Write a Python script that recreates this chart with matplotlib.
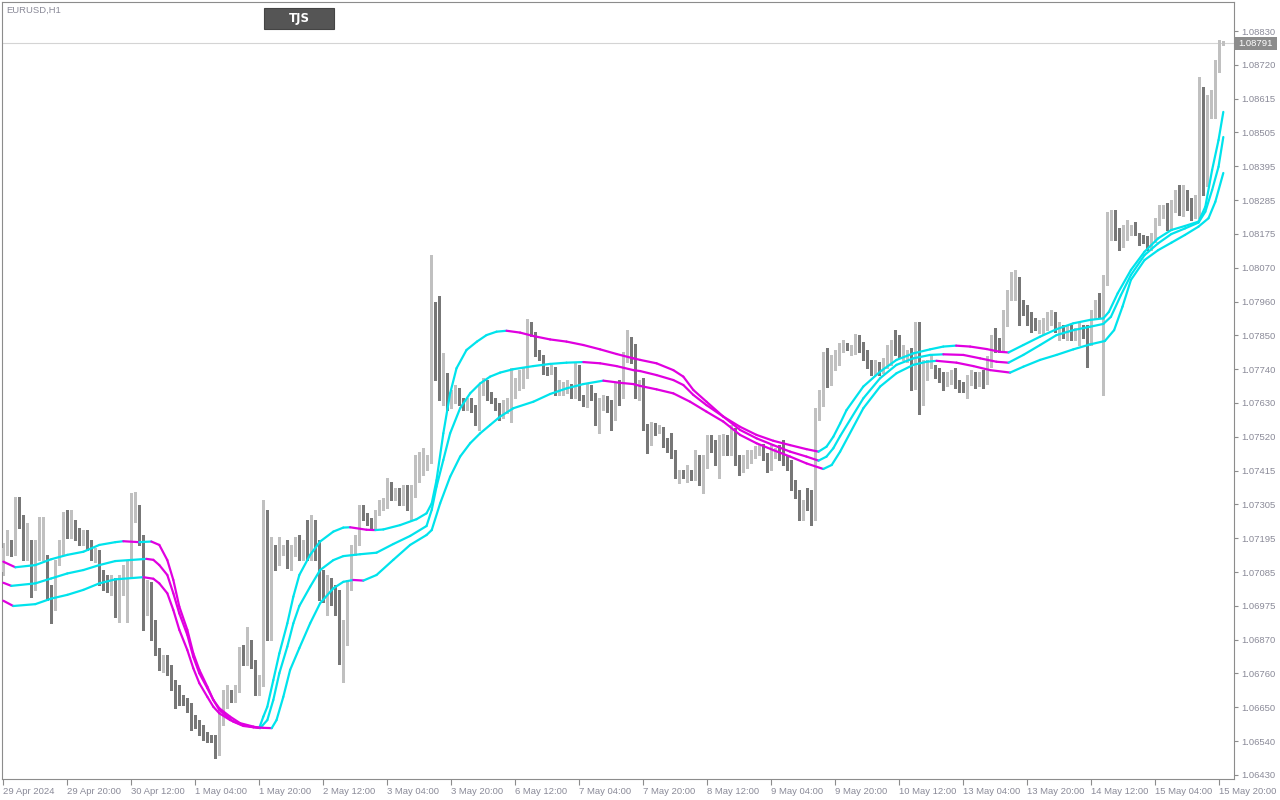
import numpy as np
import matplotlib
matplotlib.use("Agg")
import matplotlib.pyplot as plt
from matplotlib.collections import LineCollection
from matplotlib.patches import Rectangle

# ---- EURUSD H1 candles, 29 Apr 2024 00:00 .. 15 May 2024 21:00 ----
opens = [
    1.07085, 1.07150, 1.07165, 1.07150, 1.07279, 1.07242, 1.07140, 1.07169, 1.07036, 1.07137,
    1.07140, 1.07124, 1.07021, 1.06984, 1.07118, 1.07150, 1.07246, 1.07204, 1.07236, 1.07204,
    1.07188, 1.07191, 1.07165, 1.07133, 1.07140, 1.07062, 1.07059, 1.07046, 1.07046, 1.07017,
    1.07036, 1.07040, 1.07065, 1.07259, 1.07272, 1.07188, 1.06994, 1.07036, 1.06904, 1.06827,
    1.06778, 1.06795, 1.06772, 1.06713, 1.06704, 1.06672, 1.06666, 1.06649, 1.06607, 1.06597,
    1.06581, 1.06555, 1.06552, 1.06546, 1.06504, 1.06601, 1.06662, 1.06688, 1.06678, 1.06707,
    1.06833, 1.06795, 1.06824, 1.06785, 1.06701, 1.06727, 1.07275, 1.06882, 1.07121, 1.07121,
    1.07153, 1.07162, 1.07104, 1.07146, 1.07178, 1.07140, 1.07172, 1.07156, 1.07162, 1.07146,
    1.07033, 1.07017, 1.07033, 1.07017, 1.07004, 1.06856, 1.06872, 1.07043, 1.07156, 1.07182,
    1.07295, 1.07262, 1.07242, 1.07226, 1.07275, 1.07295, 1.07301, 1.07362, 1.07323, 1.07339,
    1.07317, 1.07349, 1.07311, 1.07333, 1.07414, 1.07414, 1.07420, 1.07443, 1.07920, 1.07969,
    1.07649, 1.07682, 1.07627, 1.07640, 1.07665, 1.07633, 1.07620, 1.07630, 1.07614, 1.07572,
    1.07662, 1.07694, 1.07646, 1.07636, 1.07617, 1.07598, 1.07604, 1.07607, 1.07675, 1.07682,
    1.07711, 1.07714, 1.07869, 1.07849, 1.07791, 1.07778, 1.07736, 1.07733, 1.07736, 1.07665,
    1.07669, 1.07672, 1.07678, 1.07659, 1.07743, 1.07646, 1.07627, 1.07678, 1.07649, 1.07569,
    1.07630, 1.07633, 1.07630, 1.07588, 1.07682, 1.07656, 1.07772, 1.07801, 1.07769, 1.07652,
    1.07698, 1.07556, 1.07501, 1.07556, 1.07543, 1.07546, 1.07504, 1.07488, 1.07472, 1.07391,
    1.07401, 1.07398, 1.07404, 1.07394, 1.07440, 1.07372, 1.07430, 1.07504, 1.07481, 1.07452,
    1.07478, 1.07501, 1.07481, 1.07540, 1.07449, 1.07420, 1.07430, 1.07443, 1.07459, 1.07475,
    1.07485, 1.07459, 1.07420, 1.07462, 1.07478, 1.07462, 1.07446, 1.07433, 1.07365, 1.07339,
    1.07272, 1.07336, 1.07336, 1.07262, 1.07585, 1.07627, 1.07756, 1.07727, 1.07746, 1.07759,
    1.07801, 1.07814, 1.07795, 1.07795, 1.07840, 1.07811, 1.07785, 1.07752, 1.07730, 1.07752,
    1.07730, 1.07749, 1.07759, 1.07804, 1.07801, 1.07781, 1.07775, 1.07785, 1.07688, 1.07862,
    1.07630, 1.07714, 1.07752, 1.07733, 1.07727, 1.07711, 1.07694, 1.07707, 1.07720, 1.07691,
    1.07685, 1.07682, 1.07698, 1.07717, 1.07698, 1.07720, 1.07701, 1.07759, 1.07830, 1.07817,
    1.07804, 1.07885, 1.07972, 1.08027, 1.08030, 1.07943, 1.07927, 1.07907, 1.07888, 1.07865,
    1.07865, 1.07882, 1.07888, 1.07914, 1.07859, 1.07865, 1.07859, 1.07865, 1.07843, 1.07856,
    1.07872, 1.07865, 1.07823, 1.07917, 1.07956, 1.07914, 1.08017, 1.08178, 1.08243, 1.08165,
    1.08159, 1.08178, 1.08185, 1.08191, 1.08165, 1.08162, 1.08159, 1.08136, 1.08159, 1.08214,
    1.08243, 1.08253, 1.08198, 1.08259, 1.08294, 1.08246, 1.08291, 1.08275, 1.08236, 1.08236,
    1.08604, 1.08340, 1.08565, 1.08588, 1.08707, 1.08791,
]
highs = [
    1.07178, 1.07220, 1.07188, 1.07326, 1.07326, 1.07269, 1.07242, 1.07188, 1.07188, 1.07262,
    1.07262, 1.07140, 1.07043, 1.07124, 1.07188, 1.07279, 1.07285, 1.07285, 1.07252, 1.07226,
    1.07220, 1.07220, 1.07188, 1.07162, 1.07156, 1.07091, 1.07075, 1.07075, 1.07066, 1.07075,
    1.07108, 1.07124, 1.07339, 1.07343, 1.07301, 1.07204, 1.07059, 1.07053, 1.06930, 1.06840,
    1.06817, 1.06817, 1.06785, 1.06736, 1.06720, 1.06688, 1.06678, 1.06662, 1.06623, 1.06607,
    1.06591, 1.06568, 1.06559, 1.06559, 1.06640, 1.06704, 1.06720, 1.06704, 1.06720, 1.06843,
    1.06849, 1.06907, 1.06865, 1.06801, 1.06753, 1.07317, 1.07285, 1.07197, 1.07172, 1.07197,
    1.07172, 1.07188, 1.07172, 1.07197, 1.07204, 1.07188, 1.07252, 1.07269, 1.07252, 1.07188,
    1.07091, 1.07075, 1.07066, 1.07043, 1.07027, 1.06930, 1.07059, 1.07172, 1.07204, 1.07301,
    1.07301, 1.07275, 1.07259, 1.07285, 1.07317, 1.07323, 1.07388, 1.07375, 1.07355, 1.07355,
    1.07365, 1.07365, 1.07365, 1.07462, 1.07472, 1.07485, 1.07462, 1.08107, 1.07956, 1.07975,
    1.07791, 1.07727, 1.07672, 1.07688, 1.07678, 1.07646, 1.07646, 1.07646, 1.07623, 1.07688,
    1.07711, 1.07704, 1.07665, 1.07646, 1.07630, 1.07640, 1.07646, 1.07743, 1.07711, 1.07736,
    1.07743, 1.07901, 1.07891, 1.07859, 1.07801, 1.07785, 1.07746, 1.07752, 1.07746, 1.07704,
    1.07698, 1.07704, 1.07691, 1.07762, 1.07752, 1.07656, 1.07694, 1.07688, 1.07662, 1.07646,
    1.07656, 1.07652, 1.07640, 1.07698, 1.07704, 1.07794, 1.07865, 1.07843, 1.07820, 1.07704,
    1.07711, 1.07562, 1.07569, 1.07565, 1.07559, 1.07552, 1.07517, 1.07533, 1.07478, 1.07414,
    1.07414, 1.07430, 1.07414, 1.07478, 1.07462, 1.07462, 1.07527, 1.07527, 1.07511, 1.07527,
    1.07530, 1.07527, 1.07559, 1.07549, 1.07462, 1.07462, 1.07478, 1.07478, 1.07491, 1.07494,
    1.07498, 1.07469, 1.07494, 1.07485, 1.07494, 1.07511, 1.07462, 1.07446, 1.07381, 1.07349,
    1.07317, 1.07355, 1.07349, 1.07613, 1.07672, 1.07794, 1.07807, 1.07785, 1.07801, 1.07824,
    1.07833, 1.07824, 1.07817, 1.07852, 1.07849, 1.07827, 1.07801, 1.07769, 1.07769, 1.07762,
    1.07775, 1.07817, 1.07833, 1.07865, 1.07849, 1.07817, 1.07801, 1.07807, 1.07891, 1.07891,
    1.07769, 1.07769, 1.07785, 1.07752, 1.07743, 1.07730, 1.07730, 1.07736, 1.07743, 1.07704,
    1.07698, 1.07720, 1.07736, 1.07730, 1.07730, 1.07736, 1.07782, 1.07849, 1.07872, 1.07840,
    1.07930, 1.07994, 1.08053, 1.08059, 1.08036, 1.07962, 1.07946, 1.07923, 1.07904, 1.07898,
    1.07904, 1.07923, 1.07930, 1.07923, 1.07891, 1.07882, 1.07882, 1.07882, 1.07872, 1.07891,
    1.07882, 1.07882, 1.07930, 1.07962, 1.07985, 1.08043, 1.08246, 1.08253, 1.08253, 1.08194,
    1.08204, 1.08220, 1.08204, 1.08214, 1.08178, 1.08172, 1.08169, 1.08178, 1.08227, 1.08269,
    1.08269, 1.08275, 1.08285, 1.08317, 1.08333, 1.08333, 1.08317, 1.08291, 1.08301, 1.08682,
    1.08649, 1.08624, 1.08640, 1.08736, 1.08801, 1.08798,
]
lows = [
    1.07075, 1.07140, 1.07137, 1.07140, 1.07226, 1.07124, 1.07124, 1.07004, 1.07027, 1.07124,
    1.07124, 1.06994, 1.06920, 1.06962, 1.07108, 1.07140, 1.07194, 1.07194, 1.07188, 1.07172,
    1.07172, 1.07156, 1.07124, 1.07118, 1.07043, 1.07027, 1.07021, 1.07011, 1.06939, 1.06924,
    1.07011, 1.06924, 1.07085, 1.07246, 1.07172, 1.06898, 1.06946, 1.06865, 1.06817, 1.06769,
    1.06762, 1.06753, 1.06704, 1.06646, 1.06656, 1.06656, 1.06633, 1.06575, 1.06581, 1.06559,
    1.06543, 1.06537, 1.06537, 1.06485, 1.06495, 1.06591, 1.06646, 1.06666, 1.06666, 1.06698,
    1.06785, 1.06785, 1.06775, 1.06688, 1.06688, 1.06717, 1.06865, 1.06865, 1.07091, 1.07108,
    1.07140, 1.07098, 1.07091, 1.07137, 1.07124, 1.07124, 1.07124, 1.07124, 1.07124, 1.06994,
    1.06988, 1.06946, 1.06978, 1.06946, 1.06788, 1.06730, 1.06849, 1.07027, 1.07140, 1.07172,
    1.07252, 1.07236, 1.07220, 1.07220, 1.07269, 1.07285, 1.07291, 1.07317, 1.07317, 1.07301,
    1.07301, 1.07285, 1.07252, 1.07327, 1.07375, 1.07398, 1.07414, 1.07436, 1.07704, 1.07640,
    1.07623, 1.07607, 1.07614, 1.07630, 1.07623, 1.07607, 1.07607, 1.07601, 1.07559, 1.07543,
    1.07656, 1.07640, 1.07630, 1.07607, 1.07575, 1.07581, 1.07598, 1.07569, 1.07646, 1.07672,
    1.07678, 1.07711, 1.07846, 1.07781, 1.07769, 1.07723, 1.07720, 1.07723, 1.07656, 1.07656,
    1.07656, 1.07662, 1.07646, 1.07646, 1.07640, 1.07620, 1.07617, 1.07640, 1.07559, 1.07533,
    1.07607, 1.07601, 1.07543, 1.07575, 1.07623, 1.07646, 1.07762, 1.07759, 1.07646, 1.07640,
    1.07543, 1.07469, 1.07494, 1.07527, 1.07533, 1.07488, 1.07472, 1.07452, 1.07388, 1.07372,
    1.07388, 1.07375, 1.07381, 1.07381, 1.07365, 1.07339, 1.07420, 1.07472, 1.07430, 1.07388,
    1.07462, 1.07462, 1.07462, 1.07430, 1.07398, 1.07407, 1.07420, 1.07436, 1.07452, 1.07462,
    1.07446, 1.07407, 1.07414, 1.07452, 1.07446, 1.07430, 1.07414, 1.07349, 1.07323, 1.07252,
    1.07252, 1.07285, 1.07236, 1.07252, 1.07575, 1.07620, 1.07681, 1.07688, 1.07736, 1.07752,
    1.07795, 1.07801, 1.07785, 1.07788, 1.07795, 1.07769, 1.07743, 1.07720, 1.07720, 1.07720,
    1.07727, 1.07743, 1.07752, 1.07785, 1.07775, 1.07769, 1.07762, 1.07672, 1.07675, 1.07594,
    1.07623, 1.07704, 1.07743, 1.07711, 1.07698, 1.07672, 1.07685, 1.07691, 1.07678, 1.07665,
    1.07665, 1.07646, 1.07688, 1.07678, 1.07685, 1.07678, 1.07691, 1.07746, 1.07795, 1.07795,
    1.07795, 1.07878, 1.07962, 1.07962, 1.07882, 1.07914, 1.07882, 1.07859, 1.07865, 1.07856,
    1.07853, 1.07865, 1.07882, 1.07859, 1.07833, 1.07840, 1.07833, 1.07833, 1.07833, 1.07817,
    1.07840, 1.07746, 1.07817, 1.07904, 1.07904, 1.07656, 1.08011, 1.08156, 1.08156, 1.08123,
    1.08133, 1.08156, 1.08172, 1.08172, 1.08140, 1.08146, 1.08123, 1.08123, 1.08149, 1.08204,
    1.08227, 1.08188, 1.08188, 1.08246, 1.08236, 1.08233, 1.08253, 1.08220, 1.08227, 1.08227,
    1.08301, 1.08330, 1.08549, 1.08549, 1.08698, 1.08785,
]
closes = [
    1.07162, 1.07182, 1.07150, 1.07279, 1.07242, 1.07140, 1.07172, 1.07033, 1.07172, 1.07165,
    1.07172, 1.07021, 1.06978, 1.07108, 1.07162, 1.07246, 1.07204, 1.07236, 1.07197, 1.07188,
    1.07197, 1.07165, 1.07133, 1.07143, 1.07059, 1.07053, 1.07050, 1.07053, 1.06978, 1.07040,
    1.07043, 1.07062, 1.07259, 1.07275, 1.07188, 1.06994, 1.07036, 1.06898, 1.06827, 1.06778,
    1.06795, 1.06772, 1.06713, 1.06656, 1.06669, 1.06666, 1.06649, 1.06604, 1.06597, 1.06578,
    1.06552, 1.06546, 1.06546, 1.06504, 1.06601, 1.06672, 1.06688, 1.06678, 1.06707, 1.06833,
    1.06795, 1.06824, 1.06785, 1.06701, 1.06736, 1.07275, 1.06882, 1.07156, 1.07101, 1.07156,
    1.07162, 1.07108, 1.07146, 1.07178, 1.07140, 1.07172, 1.07150, 1.07165, 1.07146, 1.07033,
    1.07021, 1.07030, 1.07017, 1.07004, 1.06856, 1.06872, 1.07040, 1.07156, 1.07182, 1.07295,
    1.07262, 1.07246, 1.07226, 1.07279, 1.07295, 1.07304, 1.07365, 1.07323, 1.07339, 1.07311,
    1.07349, 1.07291, 1.07343, 1.07417, 1.07424, 1.07424, 1.07449, 1.07930, 1.07743, 1.07649,
    1.07682, 1.07627, 1.07640, 1.07665, 1.07630, 1.07620, 1.07630, 1.07614, 1.07572, 1.07665,
    1.07694, 1.07646, 1.07636, 1.07617, 1.07598, 1.07617, 1.07617, 1.07678, 1.07691, 1.07714,
    1.07717, 1.07865, 1.07856, 1.07791, 1.07778, 1.07733, 1.07730, 1.07736, 1.07665, 1.07688,
    1.07682, 1.07682, 1.07662, 1.07743, 1.07646, 1.07627, 1.07682, 1.07646, 1.07572, 1.07633,
    1.07643, 1.07627, 1.07585, 1.07678, 1.07656, 1.07775, 1.07801, 1.07769, 1.07652, 1.07682,
    1.07556, 1.07501, 1.07556, 1.07536, 1.07549, 1.07501, 1.07488, 1.07469, 1.07391, 1.07404,
    1.07398, 1.07404, 1.07394, 1.07436, 1.07375, 1.07433, 1.07504, 1.07478, 1.07449, 1.07481,
    1.07498, 1.07481, 1.07540, 1.07446, 1.07420, 1.07443, 1.07443, 1.07459, 1.07475, 1.07481,
    1.07456, 1.07420, 1.07465, 1.07472, 1.07462, 1.07440, 1.07427, 1.07362, 1.07333, 1.07272,
    1.07295, 1.07304, 1.07262, 1.07585, 1.07627, 1.07749, 1.07694, 1.07746, 1.07765, 1.07804,
    1.07814, 1.07811, 1.07798, 1.07836, 1.07807, 1.07781, 1.07752, 1.07730, 1.07746, 1.07730,
    1.07756, 1.07759, 1.07804, 1.07798, 1.07785, 1.07788, 1.07781, 1.07688, 1.07862, 1.07630,
    1.07720, 1.07752, 1.07769, 1.07727, 1.07707, 1.07685, 1.07714, 1.07717, 1.07688, 1.07682,
    1.07678, 1.07701, 1.07711, 1.07698, 1.07711, 1.07688, 1.07759, 1.07827, 1.07817, 1.07804,
    1.07885, 1.07972, 1.08033, 1.08033, 1.07943, 1.07923, 1.07907, 1.07885, 1.07878, 1.07882,
    1.07882, 1.07891, 1.07911, 1.07869, 1.07872, 1.07856, 1.07872, 1.07843, 1.07856, 1.07872,
    1.07865, 1.07823, 1.07920, 1.07952, 1.07917, 1.08023, 1.08178, 1.08243, 1.08175, 1.08159,
    1.08182, 1.08191, 1.08191, 1.08182, 1.08159, 1.08156, 1.08130, 1.08162, 1.08214, 1.08243,
    1.08249, 1.08201, 1.08262, 1.08294, 1.08246, 1.08291, 1.08269, 1.08236, 1.08285, 1.08604,
    1.08340, 1.08565, 1.08591, 1.08711, 1.08791, 1.08791,
]

# ---- band indicator (upper / middle / lower), sampled at bar positions ----
upper_t = [0, 3, 8, 12, 16, 20, 24, 28, 30, 34, 37, 39, 41, 42.5, 44, 46, 47.5, 49, 51, 52.5,
           54, 56, 57.5, 60, 62.5, 64, 65, 66, 67.5, 69, 71, 72.5, 74, 76.7, 79.2, 82.5, 85, 86.7,
           90.8, 93, 95, 99.2, 103.3, 105.8, 107.1, 108.3, 110, 111.7, 113.3, 115.8, 118.4, 120.8,
           123.3, 125.8, 129.2, 132.5, 136.7, 140.8, 145, 149.2, 153.3, 157.5, 159.2, 163.3, 167.5,
           170, 172.5, 175.8, 180, 184.2, 188.3, 192.5, 196.7, 200.8, 203.8, 205.8, 207.5, 209.2,
           210.8, 215, 219.2, 223.3, 227.5, 231.7, 235, 238.2, 241.7, 245.8, 249.2, 251.3, 255,
           259.2, 263.3, 267.5, 271.7, 275, 276.4, 278.6, 281.9, 285.3, 288.7, 292, 295.4, 298.8,
           300.5, 302.2, 303.8, 305]
upper = [1.07118, 1.07100, 1.07107, 1.07126, 1.07140, 1.07150, 1.07172, 1.07181, 1.07184, 1.07181,
         1.07183, 1.07172, 1.07123, 1.07059, 1.06973, 1.06898, 1.06822, 1.06769, 1.06715, 1.06672,
         1.06640, 1.06618, 1.06602, 1.06588, 1.06584, 1.06582, 1.06618, 1.06650, 1.06736, 1.06822,
         1.06919, 1.07005, 1.07075, 1.07140, 1.07183, 1.07215, 1.07228, 1.07229, 1.07221, 1.07220,
         1.07222, 1.07236, 1.07255, 1.07274, 1.07306, 1.07381, 1.07532, 1.07661, 1.07742, 1.07801,
         1.07828, 1.07849, 1.07860, 1.07863, 1.07857, 1.07846, 1.07835, 1.07828, 1.07817, 1.07803,
         1.07788, 1.07774, 1.07769, 1.07758, 1.07736, 1.07715, 1.07672, 1.07634, 1.07586, 1.07553,
         1.07527, 1.07508, 1.07494, 1.07481, 1.07473, 1.07489, 1.07521, 1.07564, 1.07607, 1.07683,
         1.07731, 1.07769, 1.07790, 1.07803, 1.07812, 1.07815, 1.07812, 1.07804, 1.07795, 1.07793,
         1.07817, 1.07844, 1.07868, 1.07887, 1.07898, 1.07903, 1.07924, 1.07984, 1.08059, 1.08118,
         1.08161, 1.08188, 1.08201, 1.08215, 1.08263, 1.08382, 1.08478, 1.08569]

middle_t = [0, 2, 8, 12, 16, 20, 24, 28, 35.8, 37.5, 39, 41, 42.5, 44, 46, 47.5, 49, 51, 52.5, 54,
            56.7, 59.2, 62.5, 64.2, 66, 67.5, 69, 71, 72.5, 74, 76.7, 79.2, 82.5, 85, 89.2, 93.3,
            97.5, 101.7, 105.8, 107.1, 108.3, 110, 111.7, 114.2, 116.7, 119.2, 121.7, 124.2, 127.5,
            132.5, 136.7, 140.8, 145, 149.2, 153.3, 157.5, 159.2, 163.3, 167.5, 170, 172.5, 175.8,
            180, 184.2, 188.3, 192.5, 196.7, 200.8, 203.8, 205.8, 207.5, 209.2, 215, 219.2, 223.3,
            227.5, 231.7, 235, 240, 244.2, 248.3, 251.3, 255, 259.2, 263.3, 267.5, 271.7, 275,
            276.9, 279.4, 281.9, 285.3, 288.7, 292, 295.4, 298.8, 300.5, 302.2, 303.8, 305]
middle = [1.07050, 1.07040, 1.07048, 1.07064, 1.07080, 1.07091, 1.07107, 1.07120, 1.07127, 1.07124,
          1.07107, 1.07075, 1.07016, 1.06951, 1.06882, 1.06811, 1.06758, 1.06710, 1.06672, 1.06645,
          1.06618, 1.06597, 1.06586, 1.06581, 1.06607, 1.06672, 1.06758, 1.06844, 1.06919, 1.06975,
          1.07037, 1.07091, 1.07123, 1.07136, 1.07142, 1.07147, 1.07175, 1.07201, 1.07233, 1.07285,
          1.07360, 1.07446, 1.07532, 1.07613, 1.07661, 1.07693, 1.07715, 1.07728, 1.07739, 1.07749,
          1.07756, 1.07760, 1.07762, 1.07758, 1.07749, 1.07736, 1.07733, 1.07720, 1.07704, 1.07688,
          1.07656, 1.07623, 1.07586, 1.07543, 1.07516, 1.07494, 1.07473, 1.07457, 1.07444, 1.07457,
          1.07484, 1.07523, 1.07645, 1.07710, 1.07753, 1.07774, 1.07785, 1.07787, 1.07785, 1.07774,
          1.07763, 1.07760, 1.07785, 1.07817, 1.07849, 1.07865, 1.07876, 1.07885, 1.07908, 1.07978,
          1.08043, 1.08107, 1.08145, 1.08175, 1.08193, 1.08212, 1.08247, 1.08317, 1.08392, 1.08488]

lower_t = [0, 2.5, 8, 12, 16, 20, 24, 28, 35, 37.5, 39, 41, 42.5, 44, 46, 47.5, 49, 51, 52.5, 54,
           56.7, 59.2, 62.5, 65, 67.1, 68.3, 70, 71.7, 74, 76.7, 79.2, 82.5, 85, 87.5, 90, 93.3,
           97.5, 101.7, 105.8, 107.1, 109.2, 111.7, 114.2, 116.7, 119.2, 121.7, 124.2, 127.5,
           132.5, 136.7, 140.8, 145, 150, 154.2, 157.5, 159.2, 163.3, 167.5, 171.7, 175.8, 180,
           184.2, 188.3, 192.5, 196.7, 200.8, 205, 207.1, 209.2, 215, 219.2, 223.3, 227.5, 230.8,
           233.3, 238.3, 242.5, 246.7, 251.7, 255, 259.2, 263.3, 267.5, 271.7, 275.4, 277.7,
           279.8, 281.9, 285.3, 288.7, 292, 295.4, 298.8, 301.3, 303, 305]
lower = [1.06992, 1.06975, 1.06981, 1.06999, 1.07011, 1.07027, 1.07048, 1.07061, 1.07068, 1.07063,
         1.07048, 1.07016, 1.06962, 1.06898, 1.06833, 1.06774, 1.06726, 1.06682, 1.06650, 1.06629,
         1.06607, 1.06594, 1.06584, 1.06582, 1.06581, 1.06607, 1.06682, 1.06769, 1.06839, 1.06919,
         1.06984, 1.07032, 1.07053, 1.07059, 1.07057, 1.07075, 1.07124, 1.07172, 1.07204, 1.07220,
         1.07306, 1.07392, 1.07457, 1.07500, 1.07532, 1.07559, 1.07586, 1.07613, 1.07634, 1.07659,
         1.07677, 1.07691, 1.07702, 1.07695, 1.07691, 1.07685, 1.07674, 1.07661, 1.07634, 1.07602,
         1.07570, 1.07527, 1.07500, 1.07478, 1.07457, 1.07435, 1.07417, 1.07430, 1.07473, 1.07613,
         1.07683, 1.07726, 1.07753, 1.07763, 1.07766, 1.07760, 1.07749, 1.07736, 1.07728, 1.07747,
         1.07769, 1.07785, 1.07803, 1.07819, 1.07830, 1.07865, 1.07941, 1.08027, 1.08091, 1.08123,
         1.08147, 1.08172, 1.08199, 1.08226, 1.08279, 1.08372]

# ---- axis labels ----
time_labels = ["29 Apr 2024", "29 Apr 20:00", "30 Apr 12:00", "1 May 04:00", "1 May 20:00",
               "2 May 12:00", "3 May 04:00", "3 May 20:00", "6 May 12:00", "7 May 04:00",
               "7 May 20:00", "8 May 12:00", "9 May 04:00", "9 May 20:00", "10 May 12:00",
               "13 May 04:00", "13 May 20:00", "14 May 12:00", "15 May 04:00", "15 May 20:00"]
price_labels = ["1.08830", "1.08720", "1.08615", "1.08505", "1.08395", "1.08285", "1.08175",
                "1.08070", "1.07960", "1.07850", "1.07740", "1.07630", "1.07520", "1.07415",
                "1.07305", "1.07195", "1.07085", "1.06975", "1.06870", "1.06760", "1.06650",
                "1.06540", "1.06430"]
symbol_text = "EURUSD,H1"
button_text = "TJS"
last_price = closes[-1]

# ---- style ----
BULL = "#c0c0c0"
BEAR = "#777777"
RISE = "#00e3ec"
FALL = "#e000e0"
FRAME = "#8c8c8c"
TEXT = "#8a8a98"
FONT = "Liberation Sans"

W, H = 1280, 800
fig = plt.figure(figsize=(W / 100, H / 100), dpi=100, facecolor="white")
L, R, T, B = 2, 1234, 2, 779
ax = fig.add_axes([L / W, 1 - B / H, (R - L) / W, (B - T) / H])
ax.set_facecolor("white")

n = len(closes)
ax.set_xlim(-0.33, 307.67)
ax.set_ylim(1.064169, 1.089236)
pix = (1.089236 - 1.064169) / (B - T)

idx = np.arange(n)
o = np.array(opens); c = np.array(closes); h = np.array(highs); lo = np.array(lows)
bull = c >= o
cols = np.where(bull, BULL, BEAR)
top = np.maximum(h, np.maximum(o, c))
bot = np.minimum(lo, np.minimum(o, c))

# last-price line
ax.axhline(last_price, color="#d4d4d4", lw=0.8, zorder=1)

# candles: 1px wicks, 3px bodies
ax.vlines(idx, bot, top, colors=cols, lw=0.75, antialiased=False, zorder=2)
ax.bar(idx, np.maximum(np.abs(c - o), pix), bottom=np.minimum(o, c), width=0.82,
       color=cols, linewidth=0, antialiased=False, zorder=3)

# band lines, coloured by direction
def band(tpos, vals):
    tpos = np.asarray(tpos, float); vals = np.asarray(vals, float)
    pts = np.column_stack([tpos, vals])
    segs = np.stack([pts[:-1], pts[1:]], axis=1)
    colors = [FALL if d < 0 else RISE for d in np.diff(vals)]
    lc = LineCollection(segs, colors=colors, linewidths=1.6, capstyle="round",
                        joinstyle="round", zorder=4)
    ax.add_collection(lc)

band(upper_t, upper)
band(middle_t, middle)
band(lower_t, lower)

# frame
for s in ax.spines.values():
    s.set_color(FRAME)
    s.set_linewidth(0.8)

# price axis (right)
ax.yaxis.tick_right()
ax.set_yticks(np.linspace(1.08830, 1.06430, len(price_labels)))
ax.set_yticklabels(price_labels)
ax.tick_params(axis="y", direction="out", length=3, width=0.8, color=FRAME,
               labelsize=6.8, labelcolor=TEXT, pad=2)

# time axis (bottom)
ax.set_xticks(np.arange(len(time_labels)) * 16)
ax.set_xticklabels(time_labels)
ax.tick_params(axis="x", direction="out", length=4, width=0.8, color=FRAME,
               labelsize=6.8, labelcolor=TEXT, pad=2)
for lbl in ax.get_xticklabels() + ax.get_yticklabels():
    lbl.set_fontfamily(FONT)
for lbl in ax.get_xticklabels():
    lbl.set_ha("left")

# last-price tag on the price axis
fig.patches.append(Rectangle((1235 / W, 1 - 49.5 / H), 42 / W, 12.5 / H,
                             transform=fig.transFigure, facecolor="#8c8c8c",
                             edgecolor="none", zorder=5))
fig.text(1238 / W, 1 - 43.3 / H, f"{last_price:.5f}", color="white", fontsize=6.8,
         family=FONT, va="center", ha="left", zorder=6)

# symbol caption and indicator button
fig.text(6 / W, 1 - 10 / H, symbol_text, color=TEXT, fontsize=6.8, family=FONT,
         va="center", ha="left")
fig.patches.append(Rectangle((264 / W, 1 - 28.5 / H), 70 / W, 20 / H,
                             transform=fig.transFigure, facecolor="#555555",
                             edgecolor="#444444", lw=0.8, zorder=5))
fig.text(299 / W, 1 - 18.3 / H, button_text, color="white", fontsize=8.5, weight="bold",
         family="DejaVu Sans", va="center", ha="center", zorder=6)

fig.savefig("out.png", dpi=100, facecolor="white")
